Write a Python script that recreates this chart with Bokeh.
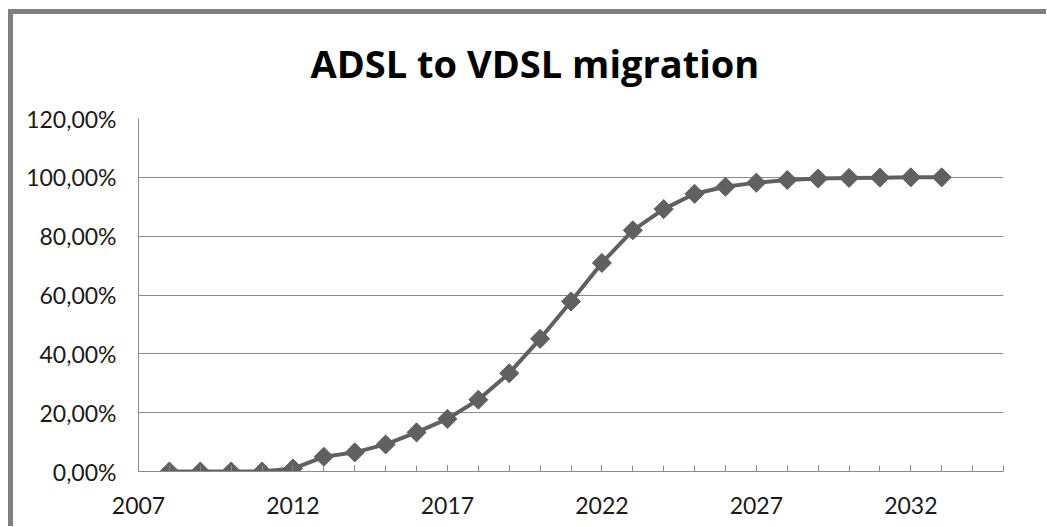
import numpy as np
from bokeh.plotting import figure
from bokeh.models import (Range1d, FixedTicker, CustomJSTickFormatter, Title)
from bokeh.embed import file_html
from bokeh.resources import INLINE

# ---- data ----
years = [2008, 2009, 2010, 2011, 2012, 2013, 2014, 2015, 2016, 2017, 2018, 2019, 2020,
         2021, 2022, 2023, 2024, 2025, 2026, 2027, 2028, 2029, 2030, 2031, 2032, 2033]
migration = [0.0, 0.0, 0.0, 0.0, 0.010, 0.050, 0.065, 0.092, 0.133, 0.179, 0.244, 0.334, 0.451,
             0.578, 0.709, 0.820, 0.892, 0.944, 0.968, 0.982, 0.991, 0.996, 0.998, 0.999, 1.0, 1.0]
x_major_ticks = [2007, 2012, 2017, 2022, 2027, 2032]
x_minor_ticks = list(range(2007, 2036))
y_ticks = [0.0, 0.2, 0.4, 0.6, 0.8, 1.0, 1.2]
title_text = "ADSL to VDSL migration"

FONT = "Lato"
GRID = "#8a8a8a"
SERIES = "#606060"
FRAME = "#7f7f7f"

W, H = 1046, 526
p = figure(width=W, height=H, output_backend="svg", toolbar_location=None,
           x_range=Range1d(2007, 2035), y_range=Range1d(0, 1.2),
           min_border_left=138, min_border_right=W - 1003,
           min_border_top=118, min_border_bottom=H - 471)

p.outline_line_color = None
p.background_fill_color = "white"
p.border_fill_color = "white"
p.border_fill_alpha = 0.0

# outer chart border (left and top edges of the chart area) drawn as host background
grad = f"linear-gradient({FRAME}, {FRAME})"
p.styles = {
    "background-color": "white",
    "background-image": f"{grad}, {grad}",
    "background-size": "5px 100%, 100% 5px",
    "background-position": "8px 9px, 8px 9px",
    "background-repeat": "no-repeat",
}

t = Title(text=title_text, text_font="Open Sans", text_font_size="38px", text_font_style="bold",
          text_color="#000000", align="left", offset=172, standoff=60)
p.add_layout(t, "above")

# axes
p.xaxis.ticker = FixedTicker(ticks=x_major_ticks, minor_ticks=x_minor_ticks)
p.yaxis.ticker = FixedTicker(ticks=y_ticks)
p.yaxis.formatter = CustomJSTickFormatter(
    code="return (tick*100).toFixed(2).replace('.', ',') + '%';")

for ax in (p.xaxis[0], p.yaxis[0]):
    ax.axis_line_color = GRID
    ax.axis_line_width = 1
    ax.major_label_text_font = FONT
    ax.major_label_text_font_size = "23px"
    ax.major_label_text_color = "#1a1a1a"
    ax.major_tick_out = 0

p.xaxis.major_tick_in = 6
p.xaxis.minor_tick_in = 6
p.xaxis.minor_tick_out = 0
p.xaxis.major_tick_line_color = GRID
p.xaxis.minor_tick_line_color = GRID
p.xaxis.major_label_standoff = 25

p.yaxis.major_tick_in = 0
p.yaxis.minor_tick_line_color = None
p.yaxis.major_tick_line_color = None
p.yaxis.major_label_standoff = 22

p.xgrid.grid_line_color = None
p.ygrid.grid_line_color = GRID
p.ygrid.grid_line_width = 1

# series
p.line(years, migration, line_color=SERIES, line_width=4)
p.scatter(years, migration, marker="square", angle=np.pi / 4, size=13.5,
          fill_color=SERIES, line_color=SERIES)

open("out.html", "w").write(file_html(p, INLINE))
